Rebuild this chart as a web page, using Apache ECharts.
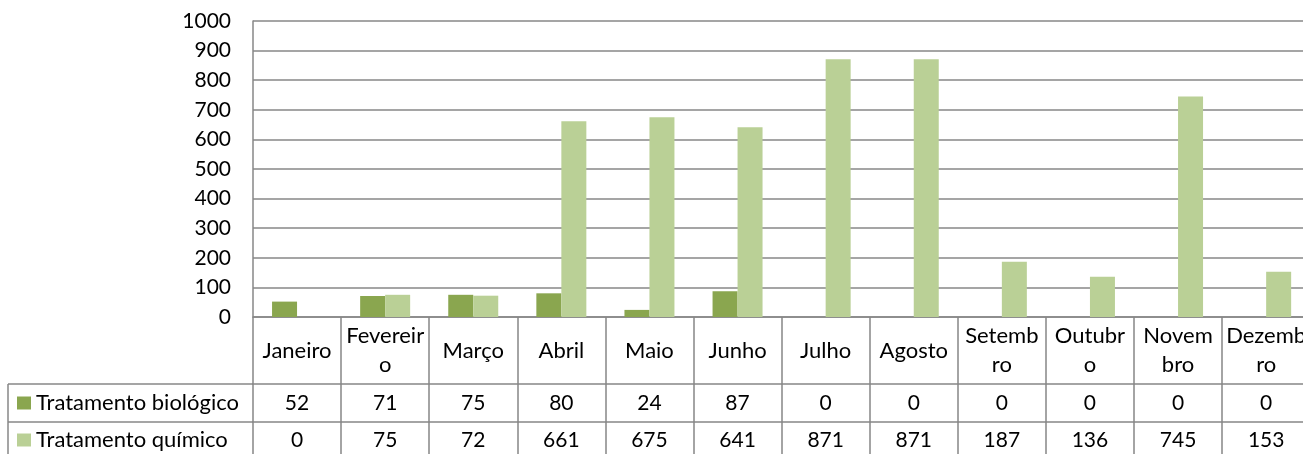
<!DOCTYPE html>
<html>
<head>
<meta charset="utf-8">
<script src="https://cdn.jsdelivr.net/npm/echarts@6/dist/echarts.min.js"></script>
<style>
  html, body { margin: 0; padding: 0; background: #fff; }
  #chart { width: 1303px; height: 454px; }
</style>
</head>
<body>
<div id="chart"></div>
<script>
// Month headers as wrapped in the table cells
const categories = ['Janeiro', 'Fevereir\no', 'Março', 'Abril', 'Maio', 'Junho',
  'Julho', 'Agosto', 'Setemb\nro', 'Outubr\no', 'Novem\nbro', 'Dezemb\nro'];
const seriesNames = ['Tratamento biológico', 'Tratamento químico'];
const biologico = [52, 71, 75, 80, 24, 87, 0, 0, 0, 0, 0, 0];
const quimico = [0, 75, 72, 661, 675, 641, 871, 871, 187, 136, 745, 153];
const yTicks = { min: 0, max: 1000, interval: 100 };

const FONT = 'Lato';
const TEXT_SIZE = 22;
const NUM_SIZE = 21;
const GRID_COLOR = '#878787';
const DARK = '#8aa64f';
const LIGHT = '#bad096';

const chart = echarts.init(document.getElementById('chart'));

const W = 1303;
const gridLeft = 253, gridTop = 21, catWidth = 88.1;
const gridHeight = 296;
const plotWidth = catWidth * categories.length;   // runs past the right edge of the page
const row1 = 67, row2 = 38, row3 = 40;

function tableAxis(offset, tickLen, margin, formatter, fontSize) {
  return {
    type: 'category',
    data: categories,
    position: 'bottom',
    offset: offset,
    boundaryGap: true,
    axisLine: { show: true, lineStyle: { color: GRID_COLOR, width: 1.5 } },
    axisTick: { show: true, interval: 0, length: tickLen, lineStyle: { color: GRID_COLOR, width: 1.5 } },
    axisLabel: {
      interval: 0, margin: margin, verticalAlign: 'middle', align: 'center',
      hideOverlap: false,
      fontFamily: FONT, fontSize: fontSize, color: '#000', lineHeight: 29,
      formatter: formatter
    },
    splitLine: { show: false }
  };
}

function legendRow(name, top) {
  return {
    orient: 'horizontal',
    left: 17, top: top,
    padding: 0,
    itemWidth: 14, itemHeight: 13,
    itemGap: 5,
    icon: 'rect',
    data: [name],
    selectedMode: false,
    textStyle: { fontFamily: FONT, fontSize: TEXT_SIZE, color: '#000', lineHeight: 24, height: 24, padding: [0, 0, 0, 0] }
  };
}

const option = {
  animation: false,
  textStyle: { fontFamily: FONT },
  grid: {
    left: gridLeft, top: gridTop, right: W - gridLeft - plotWidth, height: gridHeight,
    containLabel: false, outerBoundsMode: 'none'
  },
  legend: [
    legendRow(seriesNames[0], 391),
    legendRow(seriesNames[1], 428)
  ],
  xAxis: [
    tableAxis(0, row1, row1 / 2, v => v, TEXT_SIZE),
    tableAxis(row1, row2, row2 / 2, (v, i) => String(biologico[i]), NUM_SIZE),
    tableAxis(row1 + row2, row3, row2 / 2 - 1, (v, i) => String(quimico[i]), NUM_SIZE)
  ],
  yAxis: {
    type: 'value',
    min: yTicks.min, max: yTicks.max, interval: yTicks.interval,
    axisLine: { show: true, lineStyle: { color: GRID_COLOR, width: 1.5 } },
    axisTick: { show: false },
    axisLabel: { fontFamily: FONT, fontSize: NUM_SIZE, color: '#000', margin: 22, formatter: v => String(v) },
    splitLine: { show: true, lineStyle: { color: GRID_COLOR, width: 1.5 } }
  },
  series: [
    {
      name: seriesNames[0], type: 'bar', xAxisIndex: 0, data: biologico,
      barWidth: 25, barGap: '0%',
      itemStyle: { color: DARK }
    },
    {
      name: seriesNames[1], type: 'bar', xAxisIndex: 0, data: quimico,
      barWidth: 25, barGap: '0%',
      itemStyle: { color: LIGHT }
    }
  ],
  graphic: [
    // borders of the series-name cells left of the plot
    { type: 'line', shape: { x1: 8, y1: gridTop + gridHeight + row1, x2: gridLeft, y2: gridTop + gridHeight + row1 },
      style: { stroke: GRID_COLOR, lineWidth: 1.5 } },
    { type: 'line', shape: { x1: 8, y1: gridTop + gridHeight + row1 + row2, x2: gridLeft, y2: gridTop + gridHeight + row1 + row2 },
      style: { stroke: GRID_COLOR, lineWidth: 1.5 } },
    { type: 'line', shape: { x1: 8, y1: gridTop + gridHeight + row1, x2: 8, y2: 460 },
      style: { stroke: GRID_COLOR, lineWidth: 1.5 } }
  ]
};

chart.setOption(option);
</script>
</body>
</html>
